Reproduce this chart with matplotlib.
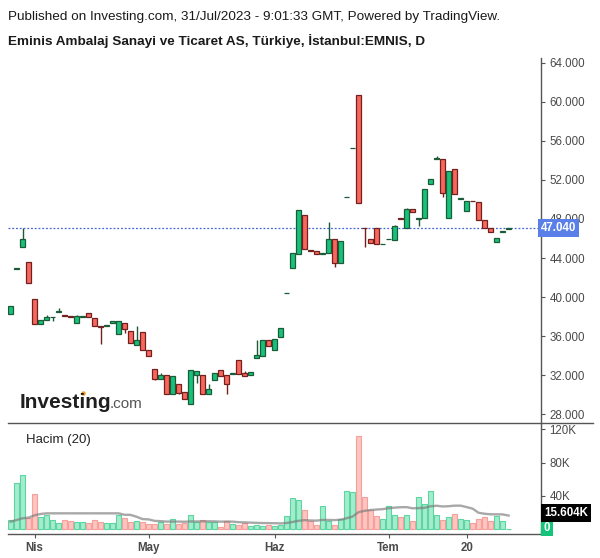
import numpy as np
import pandas as pd
import matplotlib
matplotlib.use("Agg")
import matplotlib.pyplot as plt
from matplotlib.lines import Line2D

plt.rcParams['font.family'] = ['Liberation Sans', 'DejaVu Sans']

# daily candles, 84 sessions (late Mar .. 31 Jul 2023)
opens = [38.26, 42.90, 45.10, 43.56, 39.76, 37.27, 37.60, 37.90, 38.51, 38.10,
         37.99, 37.30, 37.98, 38.33, 37.82, 36.98, 37.04, 37.31, 36.17, 37.30,
         36.48, 35.05, 36.38, 34.53, 32.58, 31.62, 31.97, 30.02, 31.05, 30.23,
         29.00, 31.97, 31.97, 30.08, 31.53, 32.48, 31.97, 32.15, 33.50, 32.17,
         32.03, 33.78, 33.98, 35.56, 34.60, 35.93, 40.36, 43.00, 44.44, 48.38,
         44.74, 44.69, 44.46, 44.54, 46.00, 43.52, 50.21, 55.23, 60.69, 47.07,
         45.92, 47.05, 45.39, 45.90, 45.88, 48.05, 47.05, 49.00, 48.05, 48.07,
         51.56, 54.17, 54.15, 48.07, 53.13, 50.06, 48.79, 49.84, 49.71, 47.86,
         47.05, 45.61, 46.68, 47.02]
highs = [39.08, 42.92, 47.10, 43.56, 39.76, 37.64, 38.15, 37.92, 38.84, 38.10,
         37.99, 38.15, 38.00, 38.33, 37.82, 36.98, 37.06, 37.51, 37.51, 37.30,
         36.48, 37.00, 36.38, 34.53, 32.58, 32.17, 31.97, 31.87, 31.05, 30.23,
         32.48, 32.38, 31.97, 31.08, 32.17, 32.48, 31.97, 32.17, 33.50, 32.38,
         32.28, 35.56, 35.56, 35.56, 35.66, 36.79, 40.38, 44.48, 48.90, 48.38,
         44.74, 44.69, 44.48, 47.70, 46.00, 45.71, 50.23, 55.25, 60.69, 47.07,
         45.92, 47.05, 45.41, 45.92, 47.40, 48.05, 49.10, 49.00, 48.07, 51.05,
         52.10, 54.50, 54.15, 52.90, 53.13, 50.08, 49.82, 49.84, 49.71, 47.86,
         47.05, 46.03, 46.70, 47.04]
lows = [38.26, 42.90, 45.10, 41.40, 37.27, 37.27, 37.60, 37.57, 38.51, 38.08,
        37.95, 37.30, 37.98, 37.92, 37.00, 35.21, 37.04, 37.31, 36.17, 36.28,
        35.26, 35.05, 34.53, 33.92, 31.50, 31.62, 30.02, 30.02, 30.10, 29.51,
        29.00, 31.15, 30.08, 30.08, 31.53, 31.93, 30.08, 32.15, 32.13, 31.93,
        32.03, 33.78, 33.98, 35.00, 34.60, 35.93, 40.36, 43.00, 44.44, 44.92,
        44.72, 44.44, 44.46, 44.54, 43.10, 43.52, 50.21, 55.23, 49.67, 45.17,
        45.50, 45.41, 45.39, 45.90, 45.88, 48.03, 47.05, 48.76, 47.31, 48.07,
        51.56, 54.17, 50.30, 48.07, 50.53, 50.06, 48.79, 49.82, 47.86, 47.08,
        46.70, 45.61, 46.68, 47.02]
closes = [39.08, 42.92, 46.00, 41.40, 37.27, 37.64, 37.95, 37.92, 38.53, 38.08,
          37.95, 38.02, 38.00, 37.92, 37.00, 36.96, 37.06, 37.51, 37.51, 36.75,
          35.26, 35.59, 34.53, 33.92, 31.62, 31.97, 30.02, 31.87, 30.19, 29.51,
          32.48, 32.38, 30.08, 30.53, 32.17, 31.93, 31.11, 32.17, 32.13, 31.93,
          32.28, 34.02, 35.56, 35.00, 35.66, 36.79, 40.38, 44.48, 48.90, 44.92,
          44.72, 44.44, 44.48, 46.00, 43.52, 45.71, 50.23, 55.25, 49.67, 47.05,
          45.50, 45.41, 45.41, 45.92, 47.25, 48.03, 49.00, 48.76, 48.07, 51.05,
          52.10, 54.19, 50.64, 52.90, 50.53, 50.08, 49.82, 49.82, 47.86, 47.08,
          46.70, 46.03, 46.70, 47.04]

# volume in thousands
volume = [10.8, 55.0, 64.7, 12.9, 42.2, 14.5, 16.9, 10.8, 7.2, 10.8,
          9.6, 8.4, 8.4, 7.2, 10.8, 8.8, 7.2, 7.2, 16.9, 12.9,
          8.4, 9.6, 8.4, 6.0, 6.0, 8.4, 6.0, 11.6, 6.0, 7.6,
          16.5, 8.8, 10.4, 8.8, 8.8, 2.0, 9.2, 5.6, 4.4, 6.8,
          3.2, 4.4, 3.2, 4.4, 3.2, 4.4, 15.3, 36.9, 34.5, 22.5,
          9.2, 4.4, 27.3, 9.2, 4.4, 11.6, 45.4, 44.6, 112.0, 38.2,
          22.9, 15.7, 12.0, 27.7, 16.9, 14.5, 16.9, 9.6, 38.6, 30.1,
          45.8, 16.9, 10.8, 14.5, 18.1, 12.0, 10.8, 7.2, 12.0, 14.5,
          9.6, 15.7, 9.6, 0.3]
# MA(20) before a full window is available
ma_head = [8.8, 10.8, 12.9, 13.7, 16.5, 18.1, 18.9, 18.9, 18.9, 18.9,
           18.9, 18.9, 18.9, 18.9, 18.9, 18.9, 18.9, 18.9, 18.9]

tick_pos = [4, 23, 44, 63, 76]
tick_labels = ['Nis', 'May', 'Haz', 'Tem', '20']
price_ticks = [28, 32, 36, 40, 44, 48, 52, 56, 60, 64]
vol_ticks = [40, 80, 120]
last_price = 47.04
last_ma = 15.604
last_vol = 0

UP = '#16c27b'
UP_EDGE = '#1d5b38'
DOWN = '#f8675d'
DOWN_EDGE = '#72201e'
VUP = '#a5ebcd'
VUP_EDGE = '#5bd6a0'
VDOWN = '#fec5c1'
VDOWN_EDGE = '#f5a09b'
AXC = '#555555'
TXT = '#4a4a4a'

W, H = 600, 558
fig = plt.figure(figsize=(W / 100, H / 100), dpi=100)
fig.patch.set_facecolor('white')


def box(x0, y0, x1, y1):
    return [x0 / W, 1 - y1 / H, (x1 - x0) / W, (y1 - y0) / H]


ax = fig.add_axes(box(8, 58, 541, 423))
axv = fig.add_axes(box(8, 423, 541, 534), sharex=ax)

o = np.array(opens)
c = np.array(closes)
hi = np.array(highs)
lo = np.array(lows)
x = np.arange(len(o))
up = c >= o

# wicks
ax.vlines(x, lo, hi, colors=np.where(up, UP_EDGE, DOWN_EDGE), lw=1.0, zorder=2)
# bodies
body_lo = np.minimum(o, c)
body_h = np.maximum(np.abs(c - o), 0.06)
ax.bar(x, body_h, bottom=body_lo, width=0.74,
       color=np.where(up, UP, DOWN), edgecolor=np.where(up, UP_EDGE, DOWN_EDGE),
       linewidth=0.9, zorder=3)

ax.axhline(last_price, color='#4466d8', lw=0.9, ls=(0, (1.5, 1.5)), zorder=1)

ax.set_xlim(-0.42, 88.4)
ax.set_ylim(27.08, 64.51)
ax.set_yticks(price_ticks)
ax.set_yticklabels(['%.3f' % p for p in price_ticks])
ax.yaxis.tick_right()
ax.tick_params(axis='y', direction='out', length=3, width=0.8, color=AXC,
               labelsize=8.3, labelcolor=TXT, pad=3)
ax.tick_params(axis='x', bottom=False, labelbottom=False)
for s in ['top', 'left', 'bottom']:
    ax.spines[s].set_visible(False)
ax.spines['right'].set_color(AXC)
ax.spines['right'].set_linewidth(1.0)

ax.text(1.0, last_price, '%.3f' % last_price, transform=ax.get_yaxis_transform(),
        ha='left', va='center', color='white', fontsize=8.3, fontweight='bold',
        bbox=dict(boxstyle='square,pad=0.25', fc='#5a7fe8', ec='none'), zorder=10,
        clip_on=False)

# investing logo
fig.text(20 / W, 1 - 408 / H, 'Investing', fontsize=15, fontweight='bold',
         color='#1f1f1f', ha='left', va='baseline')
fig.text(110 / W, 1 - 408 / H, '.com', fontsize=11, color='#555555',
         ha='left', va='baseline')
fig.add_artist(Line2D([82.5 / W], [1 - 392.5 / H], marker='o', ms=3.2,
                      color='#f39a1e', mec='none'))

# volume pane
vol = np.array(volume)
ma = pd.Series(vol).rolling(20).mean().to_numpy()
ma[:len(ma_head)] = ma_head
axv.bar(x, vol, width=0.9, color=np.where(up, VUP, VDOWN),
        edgecolor=np.where(up, VUP_EDGE, VDOWN_EDGE), linewidth=0.8, zorder=2)
axv.plot(x, ma, color='#7a7a7a', alpha=0.65, lw=1.7, zorder=3)
axv.set_ylim(-6.0, 127.7)
axv.set_yticks(vol_ticks)
axv.set_yticklabels(['%dK' % v for v in vol_ticks])
axv.yaxis.tick_right()
axv.tick_params(axis='y', direction='out', length=3, width=0.8, color=AXC,
                labelsize=8.3, labelcolor=TXT, pad=3)
axv.set_xticks(tick_pos)
axv.set_xticklabels(tick_labels)
axv.tick_params(axis='x', direction='out', length=3, width=0.8, color=AXC,
                labelsize=8.3, labelcolor=TXT, pad=3)
for lab in axv.get_xticklabels():
    lab.set_fontweight('bold')
for s in ['top', 'left']:
    axv.spines[s].set_visible(False)
for s in ['right', 'bottom']:
    axv.spines[s].set_color(AXC)
    axv.spines[s].set_linewidth(1.0)

axv.annotate('%.3fK' % last_ma, xy=(1.0, last_ma), xycoords=('axes fraction', 'data'),
             xytext=(2, 2), textcoords='offset points', ha='left', va='center',
             color='white', fontsize=8.3, fontweight='bold',
             bbox=dict(boxstyle='square,pad=0.25', fc='black', ec='none'),
             annotation_clip=False, zorder=10)
axv.annotate('%d' % last_vol, xy=(1.0, last_vol), xycoords=('axes fraction', 'data'),
             xytext=(2, 1), textcoords='offset points', ha='left', va='center',
             color='white', fontsize=8.3, fontweight='bold',
             bbox=dict(boxstyle='square,pad=0.2', fc='#14c47a', ec='none'),
             annotation_clip=False, zorder=9)

axv.text(18 / 533, 1 - 17 / 111, 'Hacim (20)', transform=axv.transAxes,
         fontsize=9.5, color='#222222', ha='left', va='center')

# pane separator
fig.add_artist(Line2D([8 / W, 593 / W], [1 - 423 / H, 1 - 423 / H],
                      color=AXC, lw=1.0))

# header
fig.text(8 / W, 1 - 17 / H,
         'Published on Investing.com, 31/Jul/2023 - 9:01:33 GMT, Powered by TradingView.',
         fontsize=9.7, color='#1a1a1a', ha='left', va='center')
fig.text(8 / W, 1 - 41 / H,
         'Eminis Ambalaj Sanayi ve Ticaret AS, Türkiye, İstanbul:EMNIS, D',
         fontsize=9.7, fontweight='bold', color='#1a1a1a', ha='left', va='center')

fig.savefig('out.png', dpi=100, facecolor='white')
